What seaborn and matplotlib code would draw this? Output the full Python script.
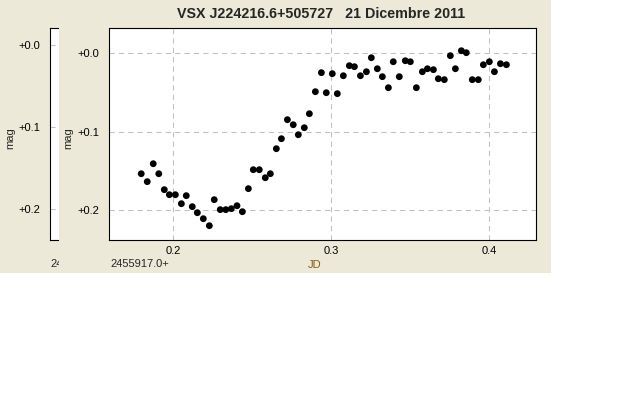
import matplotlib
matplotlib.use("Agg")
import matplotlib.pyplot as plt
from matplotlib.patches import Rectangle
from matplotlib.ticker import FixedLocator, FuncFormatter
import seaborn as sns

# light curve, JD - 2455917.0 and differential magnitude
jd = [0.1797, 0.1835, 0.1873, 0.1908, 0.1943, 0.1975, 0.2013, 0.2051, 0.2082, 0.2120,
      0.2152, 0.2190, 0.2228, 0.2259, 0.2297, 0.2332, 0.2367, 0.2403, 0.2437, 0.2475,
      0.2506, 0.2544, 0.2582, 0.2614, 0.2652, 0.2684, 0.2722, 0.2759, 0.2791, 0.2829,
      0.2861, 0.2899, 0.2937, 0.2968, 0.3006, 0.3038, 0.3076, 0.3114, 0.3146, 0.3184,
      0.3222, 0.3253, 0.3291, 0.3323, 0.3361, 0.3392, 0.3430, 0.3468, 0.3500, 0.3538,
      0.3576, 0.3608, 0.3646, 0.3677, 0.3715, 0.3753, 0.3785, 0.3823, 0.3854, 0.3892,
      0.3930, 0.3962, 0.4000, 0.4032, 0.4070, 0.4108]
mag = [0.1535, 0.1636, 0.1408, 0.1535, 0.1738, 0.1802, 0.1802, 0.1916, 0.1814, 0.1954,
       0.2031, 0.2107, 0.2196, 0.1865, 0.1992, 0.1992, 0.1980, 0.1942, 0.2018, 0.1725,
       0.1484, 0.1484, 0.1586, 0.1535, 0.1217, 0.1090, 0.0848, 0.0912, 0.1039, 0.0950,
       0.0772, 0.0492, 0.0250, 0.0505, 0.0263, 0.0517, 0.0289, 0.0161, 0.0174, 0.0289,
       0.0238, 0.0060, 0.0200, 0.0301, 0.0441, 0.0111, 0.0301, 0.0098, 0.0111, 0.0441,
       0.0238, 0.0200, 0.0212, 0.0327, 0.0339, 0.0034, 0.0200, -0.0029, -0.0004, 0.0339,
       0.0339, 0.0149, 0.0111, 0.0238, 0.0136, 0.0149]

x_ticks = [0.2, 0.3, 0.4]
y_ticks = [0.0, 0.1, 0.2]
title = "VSX J224216.6+505727   21 Dicembre 2011"
jd_offset = "2455917.0+"

sns.set_style("white")
plt.rcParams['font.family'] = ['Liberation Sans', 'DejaVu Sans']

W, H = 640, 400
BEIGE = "#ece9d8"
GRID = "#c0c0c0"
FS = 8


def fx(px):
    return px / W


def fy(py):
    return 1 - py / H


def mag_fmt(v, pos):
    return "%+.1f" % v if abs(v) > 1e-9 else "+0.0"


fig = plt.figure(figsize=(6.4, 4), dpi=100, facecolor="white")

# window background
fig.patches.append(Rectangle((0, fy(273)), fx(551), 273 / H, transform=fig.transFigure,
                             facecolor=BEIGE, edgecolor="none", zorder=0))

# partially hidden chart behind the main window
ax0 = fig.add_axes([fx(50), fy(240), fx(40), 212 / H], zorder=0.1)
ax0.set_facecolor("white")
ax0.set_xlim(0, 1)
ax0.set_ylim(0.2374, -0.0207)
ax0.set_xticks([])
ax0.yaxis.set_major_locator(FixedLocator(y_ticks))
ax0.yaxis.set_major_formatter(FuncFormatter(mag_fmt))
ax0.tick_params(axis="y", length=0, pad=7, labelsize=FS, colors="black")
ax0.grid(axis="y", color=GRID, linestyle=(0, (5, 4)), linewidth=0.75)
for s in ax0.spines.values():
    s.set_color("black")
    s.set_linewidth(0.8)
fig.text(fx(10), fy(138), "mag", rotation=90, ha="center", va="center", fontsize=FS, zorder=0.2)
fig.text(fx(50), fy(264), jd_offset, ha="left", va="center", fontsize=FS, zorder=0.2)

# main window covers the older chart
fig.patches.append(Rectangle((fx(59), fy(273)), fx(551 - 59), 273 / H, transform=fig.transFigure,
                             facecolor=BEIGE, edgecolor="none", zorder=0.5))

ax = fig.add_axes([fx(109), fy(240), fx(535.5 - 109), 212 / H], zorder=1)
ax.set_facecolor("white")
sns.scatterplot(x=jd, y=mag, ax=ax, color="black", s=24, edgecolor="none", zorder=3)
ax.set_xlim(0.1593, 0.4292)
ax.set_ylim(0.2378, -0.0318)
ax.xaxis.set_major_locator(FixedLocator(x_ticks))
ax.yaxis.set_major_locator(FixedLocator(y_ticks))
ax.xaxis.set_major_formatter(FuncFormatter(lambda v, p: "%.1f" % v))
ax.yaxis.set_major_formatter(FuncFormatter(mag_fmt))
ax.tick_params(axis="y", length=0, pad=7, labelsize=FS, colors="black")
ax.tick_params(axis="x", length=0, pad=4, labelsize=FS, colors="black")
ax.grid(True, color=GRID, linestyle=(0, (5, 4)), linewidth=0.75)
ax.set_axisbelow(True)
ax.set_xlabel("")
ax.set_ylabel("")
for s in ax.spines.values():
    s.set_color("black")
    s.set_linewidth(0.8)

fig.text(fx(68), fy(138), "mag", rotation=90, ha="center", va="center", fontsize=FS, zorder=2)
fig.text(fx(110), fy(264), jd_offset, ha="left", va="center", fontsize=FS, zorder=2)
fig.text(fx(315), fy(265), "JD", ha="center", va="center", fontsize=FS, color="#8a5a10", zorder=2)
fig.text(fx(321), fy(14), title, ha="center", va="center", fontsize=10.3, fontweight="bold", zorder=2)

fig.savefig("out.png", dpi=100, facecolor="white")
